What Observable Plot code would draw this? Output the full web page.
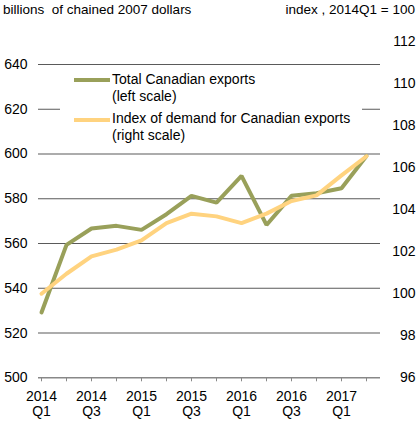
<!DOCTYPE html>
<html><head><meta charset="utf-8">
<script src="https://cdn.jsdelivr.net/npm/d3@7"></script>
<script src="https://cdn.jsdelivr.net/npm/@observablehq/plot@0.6"></script>
<style>
body{margin:0;background:#fff;font-family:"Liberation Sans",Arial,sans-serif;color:#000;}
#wrap{position:relative;width:418px;height:422px;overflow:hidden;}
.ttl{position:absolute;top:2px;font-size:13.5px;line-height:16px;white-space:nowrap;}
#legend{position:absolute;left:60px;top:68px;width:302px;height:76px;background:#fff;font-size:14px;}
.sw{position:absolute;left:14px;width:36px;height:4px;}
.lt{position:absolute;left:52px;line-height:17px;white-space:nowrap;}
</style></head>
<body>
<div id="wrap">
  <div id="chart"></div>
  <div class="ttl" style="left:3px">billions &nbsp;of chained 2007 dollars</div>
  <div class="ttl" style="right:3px">index , 2014Q1 = 100</div>
  <div id="legend">
    <div class="sw" id="sw1" style="top:10px"></div>
    <div class="lt" id="lt1" style="top:3px"></div>
    <div class="sw" id="sw2" style="top:50px"></div>
    <div class="lt" id="lt2" style="top:42px"></div>
  </div>
</div>
<script>
const quarters = ["2014Q1","2014Q2","2014Q3","2014Q4","2015Q1","2015Q2","2015Q3","2015Q4","2016Q1","2016Q2","2016Q3","2016Q4","2017Q1","2017Q2"];
const exportsSeries = [529.2, 559.4, 566.7, 567.9, 566.1, 573.1, 581.3, 578.3, 590.2, 568.3, 581.3, 582.5, 584.7, 599.1];
const demandIndex = [100.0, 100.95, 101.78, 102.1, 102.54, 103.36, 103.81, 103.68, 103.36, 103.81, 104.41, 104.68, 105.63, 106.54];
const leftTicks = [500, 520, 540, 560, 580, 600, 620, 640];
const rightTicks = [96, 98, 100, 102, 104, 106, 108, 110, 112];
const labelQuarters = ["2014Q1","2014Q3","2015Q1","2015Q3","2016Q1","2016Q3","2017Q1"];
const seriesNames = ["Total Canadian exports\n(left scale)", "Index of demand for Canadian exports\n(right scale)"];
const colors = ["#99A05A", "#FFD37F"];

// scales: left axis in pixel space, right axis mapped onto the same pixel space
const W = 418, H = 422;
const yBottom = 377.3, yLeftTop = 64, yRightTop = 41;
const leftPx = d3.scaleLinear([500, 640], [yBottom, yLeftTop]);
const rightPx = d3.scaleLinear([96, 112], [yBottom, yRightTop]);
const toLeft = v => leftPx.invert(rightPx(v));

const rows = quarters.map((q, i) => ({q, exp: exportsSeries[i], idx: demandIndex[i]}));

const chart = Plot.plot({
  width: W, height: H,
  marginLeft: 38, marginRight: 38, marginTop: 20, marginBottom: H - yBottom,
  style: {fontFamily: "Liberation Sans, Arial, sans-serif", fontSize: "14px", color: "#000", background: "#fff"},
  x: {type: "point", domain: quarters, range: [38.3, 368.3], padding: 0, axis: null},
  y: {domain: [500, 640], range: [yBottom, yLeftTop], axis: null},
  marks: [
    Plot.ruleY(leftTicks.filter(d => d > 500), {stroke: "#5a5a5a", strokeWidth: 1.1}),
    Plot.ruleY([500], {stroke: "#888", strokeWidth: 1.5}),
    Plot.axisX(quarters, {tickSize: 4, tickFormat: () => "", stroke: "#888", label: null}),
    Plot.text(labelQuarters, {x: d => d, text: d => d.slice(0,4) + "\n" + d.slice(4), frameAnchor: "bottom", dy: 25.5, lineAnchor: "middle", lineHeight: 1.07, fontSize: 14, fill: "#000"}),
    Plot.text(leftTicks, {y: d => d, text: d => String(d), frameAnchor: "left", textAnchor: "end", dx: -11, fontSize: 14, fill: "#000"}),
    Plot.text(rightTicks, {y: d => toLeft(d), text: d => String(d), frameAnchor: "right", textAnchor: "end", dx: 35, fontSize: 14, fill: "#000"}),
    Plot.line(rows, {x: "q", y: "exp", stroke: colors[0], strokeWidth: 4, strokeLinejoin: "miter"}),
    Plot.line(rows, {x: "q", y: d => toLeft(d.idx), stroke: colors[1], strokeWidth: 4, strokeLinejoin: "miter"})
  ]
});
document.getElementById("chart").appendChild(chart);

document.getElementById("sw1").style.background = colors[0];
document.getElementById("sw2").style.background = colors[1];
document.getElementById("lt1").innerHTML = seriesNames[0].replace("\n", "<br>");
document.getElementById("lt2").innerHTML = seriesNames[1].replace("\n", "<br>");
</script>
</body></html>
